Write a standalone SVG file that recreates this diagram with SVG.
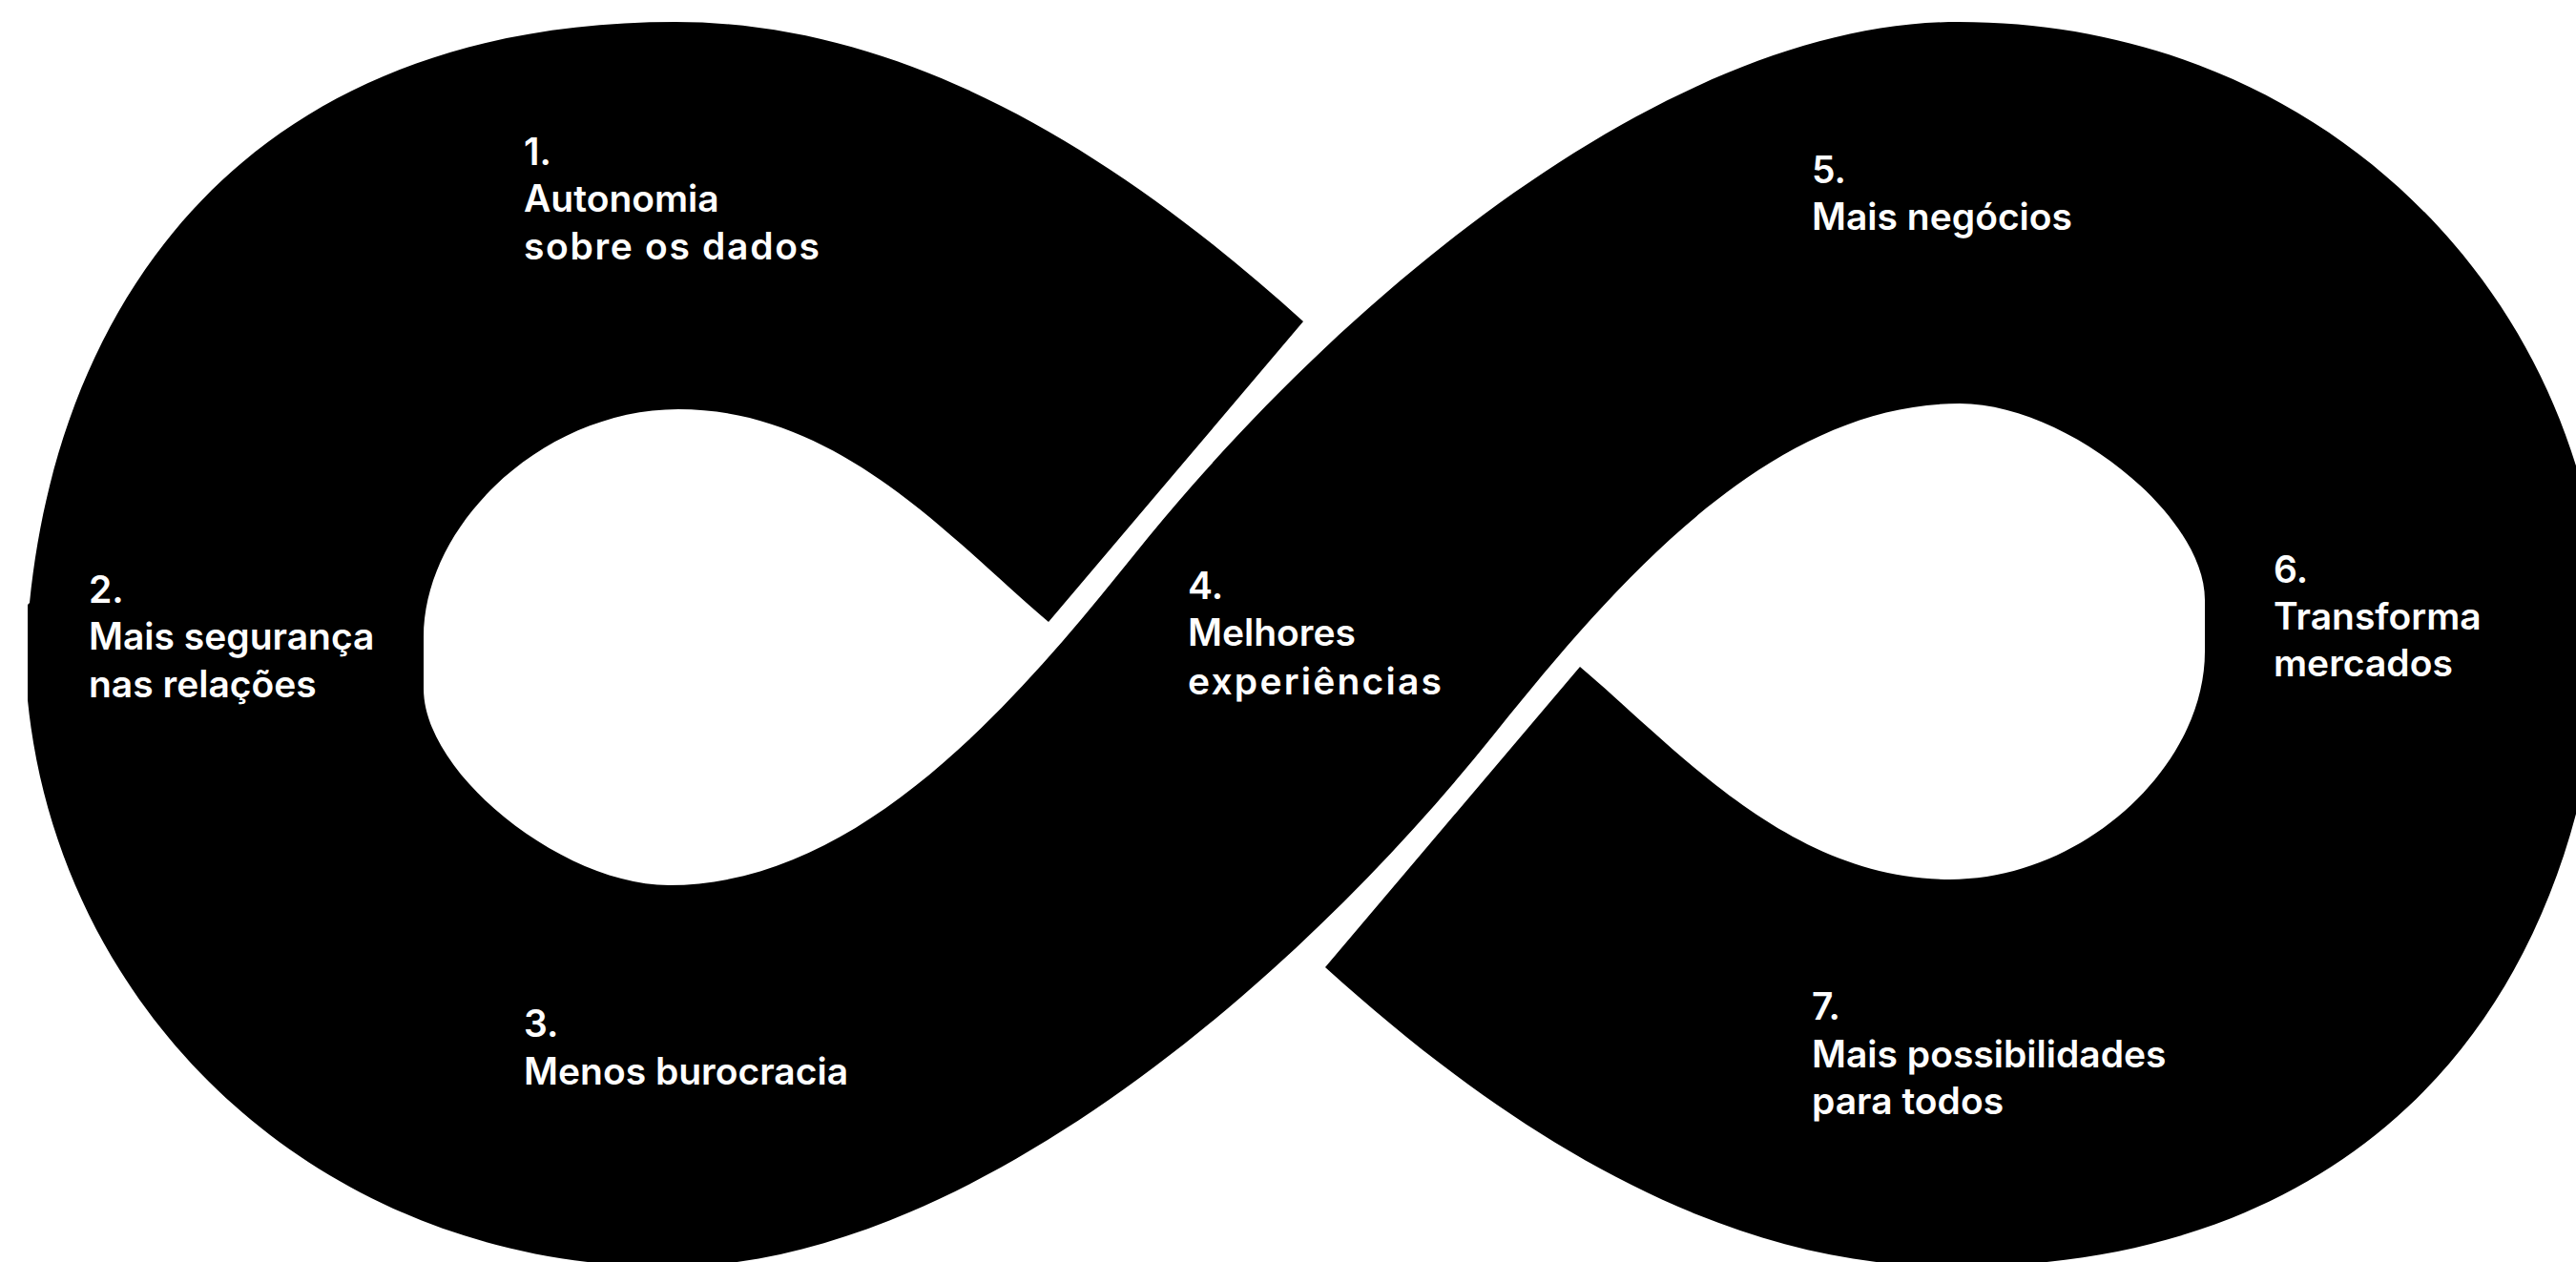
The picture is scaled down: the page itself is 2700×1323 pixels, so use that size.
<svg xmlns="http://www.w3.org/2000/svg" width="2700" height="1323" viewBox="0 0 2700 1323">
  <style>
    .lbl { font-family: Inter, "Open Sans", "Liberation Sans", sans-serif; font-weight: 600; font-size: 39px; fill: #ffffff; }
    .band { fill: #000000; }
  </style>
  <rect width="2700" height="1323" fill="#ffffff"/>
  <g id="connectors">
    <path id="infinity-band" class="band" d="M 1366,337 C 1181,169.5 958,23 708,23 C 270,23 64,302 31,632 L 29,634 L 29,734 C 62,1064 337,1328 702,1328 C 1002,1328 1346,1044 1565,771 C 1690,615 1854,423 2054,423 C 2164,423 2311,539 2311,629 L 2311,683 C 2311,803 2184,922 2044,922 C 1874,922 1756,783 1656,699 L 1389,1014 C 1574,1181.5 1797,1328 2047,1328 C 2485,1328 2691,1049 2724,719 L 2726,717 L 2726,617 C 2693,287 2418,23 2053,23 C 1753,23 1409,307 1190,580 C 1065,736 901,928 701,928 C 591,928 444,812 444,722 L 444,668 C 444,548 571,429 711,429 C 881,429 999,568 1099,652 Z"/>
  </g>
  <g id="node-1">
    <text class="lbl" x="549" y="173">1.<tspan x="549" dy="49">Autonomia</tspan><tspan x="549" dy="50" textLength="310" lengthAdjust="spacing">sobre os dados</tspan></text>
  </g>
  <g id="node-2">
    <text class="lbl" x="93" y="632">2.<tspan x="93" dy="49">Mais segurança</tspan><tspan x="93" dy="50">nas relações</tspan></text>
  </g>
  <g id="node-3">
    <text class="lbl" x="549" y="1087">3.<tspan x="549" dy="50">Menos burocracia</tspan></text>
  </g>
  <g id="node-4">
    <text class="lbl" x="1245" y="628">4.<tspan x="1245" dy="49">Melhores</tspan><tspan x="1245" dy="51" textLength="266" lengthAdjust="spacing">experiências</tspan></text>
  </g>
  <g id="node-5">
    <text class="lbl" x="1899" y="192">5.<tspan x="1899" dy="49">Mais negócios</tspan></text>
  </g>
  <g id="node-6">
    <text class="lbl" x="2383" y="611">6.<tspan x="2383" dy="49">Transforma</tspan><tspan x="2383" dy="49">mercados</tspan></text>
  </g>
  <g id="node-7">
    <text class="lbl" x="1899" y="1069">7.<tspan x="1899" dy="50">Mais possibilidades</tspan><tspan x="1899" dy="49">para todos</tspan></text>
  </g>
</svg>
